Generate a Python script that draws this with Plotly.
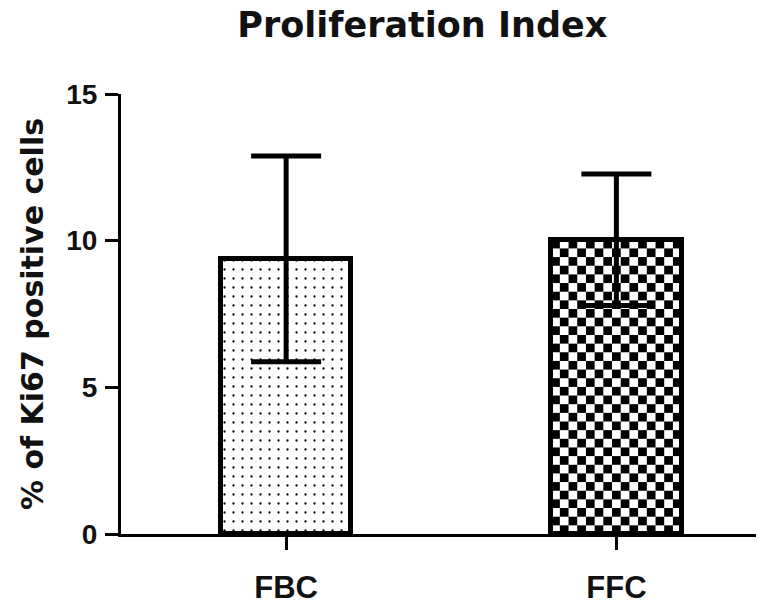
import base64
import plotly.graph_objects as go

# ---- data ----
categories = ["FBC", "FFC"]
means = [9.38, 10.03]
sds = [3.51, 2.24]
y_ticks = [0, 5, 10, 15]
title_text = "Proliferation Index"
y_title = "% of Ki67 positive cells"

x_pos = list(range(len(categories)))
bar_w = 0.395

fig = go.Figure()

# FBC: dotted fill
fig.add_trace(go.Bar(
    x=[x_pos[0]], y=[means[0]], width=bar_w,
    marker=dict(color="white",
                line=dict(color="black", width=5),
                pattern=dict(shape=".", fgcolor="black", bgcolor="white",
                             size=9, solidity=0.05, fillmode="replace")),
    error_y=dict(type="data", array=[sds[0]], visible=True,
                 color="black", thickness=5, width=35),
    showlegend=False, hoverinfo="skip",
))

# FFC: checkerboard fill (image behind a transparent bar)
fig.add_trace(go.Bar(
    x=[x_pos[1]], y=[means[1]], width=bar_w,
    marker=dict(color="rgba(0,0,0,0)",
                line=dict(color="black", width=5)),
    error_y=dict(type="data", array=[sds[1]], visible=True,
                 color="black", thickness=5, width=35),
    showlegend=False, hoverinfo="skip",
))

nx, ny = 15, 34
svg = (
    f'<svg xmlns="http://www.w3.org/2000/svg" width="{nx}" height="{ny}" '
    f'viewBox="0 0 {nx} {ny}" preserveAspectRatio="none" shape-rendering="crispEdges">'
    '<defs><pattern id="c" width="2" height="2" patternUnits="userSpaceOnUse">'
    '<rect width="2" height="2" fill="white"/>'
    '<rect width="1" height="1" fill="black"/>'
    '<rect x="1" y="1" width="1" height="1" fill="black"/>'
    '</pattern></defs>'
    f'<rect width="{nx}" height="{ny}" fill="url(#c)"/></svg>'
)
src = "data:image/svg+xml;base64," + base64.b64encode(svg.encode()).decode()
fig.add_layout_image(dict(
    source=src, xref="x", yref="y",
    x=x_pos[1] - bar_w / 2, y=means[1], sizex=bar_w, sizey=means[1],
    xanchor="left", yanchor="top", sizing="stretch", layer="below",
))

# page body has an 8px default margin: size the figure to fit the window
fig.update_layout(
    width=756, height=598,
    margin=dict(l=113, r=0, t=86, b=72),
    paper_bgcolor="white", plot_bgcolor="white",
    title=dict(text=title_text, x=0.548, xanchor="center", y=0.993, yanchor="top",
               pad=dict(t=0, b=0),
               font=dict(family="DejaVu Sans", size=35, color="#111", weight="bold")),
    bargap=0,
)
fig.update_xaxes(
    range=[-0.5, 1.447], tickvals=x_pos, ticktext=categories,
    showgrid=False, zeroline=False,
    showline=True, linecolor="black", linewidth=3,
    ticks="outside", ticklen=13, tickwidth=3, tickcolor="black",
    tickfont=dict(family="Liberation Sans", size=31, color="#111", weight="bold"),
    ticklabelstandoff=11,
)
fig.update_yaxes(
    range=[0, 15], tickvals=y_ticks,
    showgrid=False, zeroline=False,
    showline=True, linecolor="black", linewidth=3,
    ticks="outside", ticklen=13, tickwidth=3, tickcolor="black",
    tickfont=dict(family="Liberation Sans", size=28, color="#111", weight="bold"),
    ticklabelstandoff=2,
    title=dict(text=y_title, standoff=14,
               font=dict(family="DejaVu Sans", size=30, color="#111", weight="bold")),
)

fig.write_html("out.html")
